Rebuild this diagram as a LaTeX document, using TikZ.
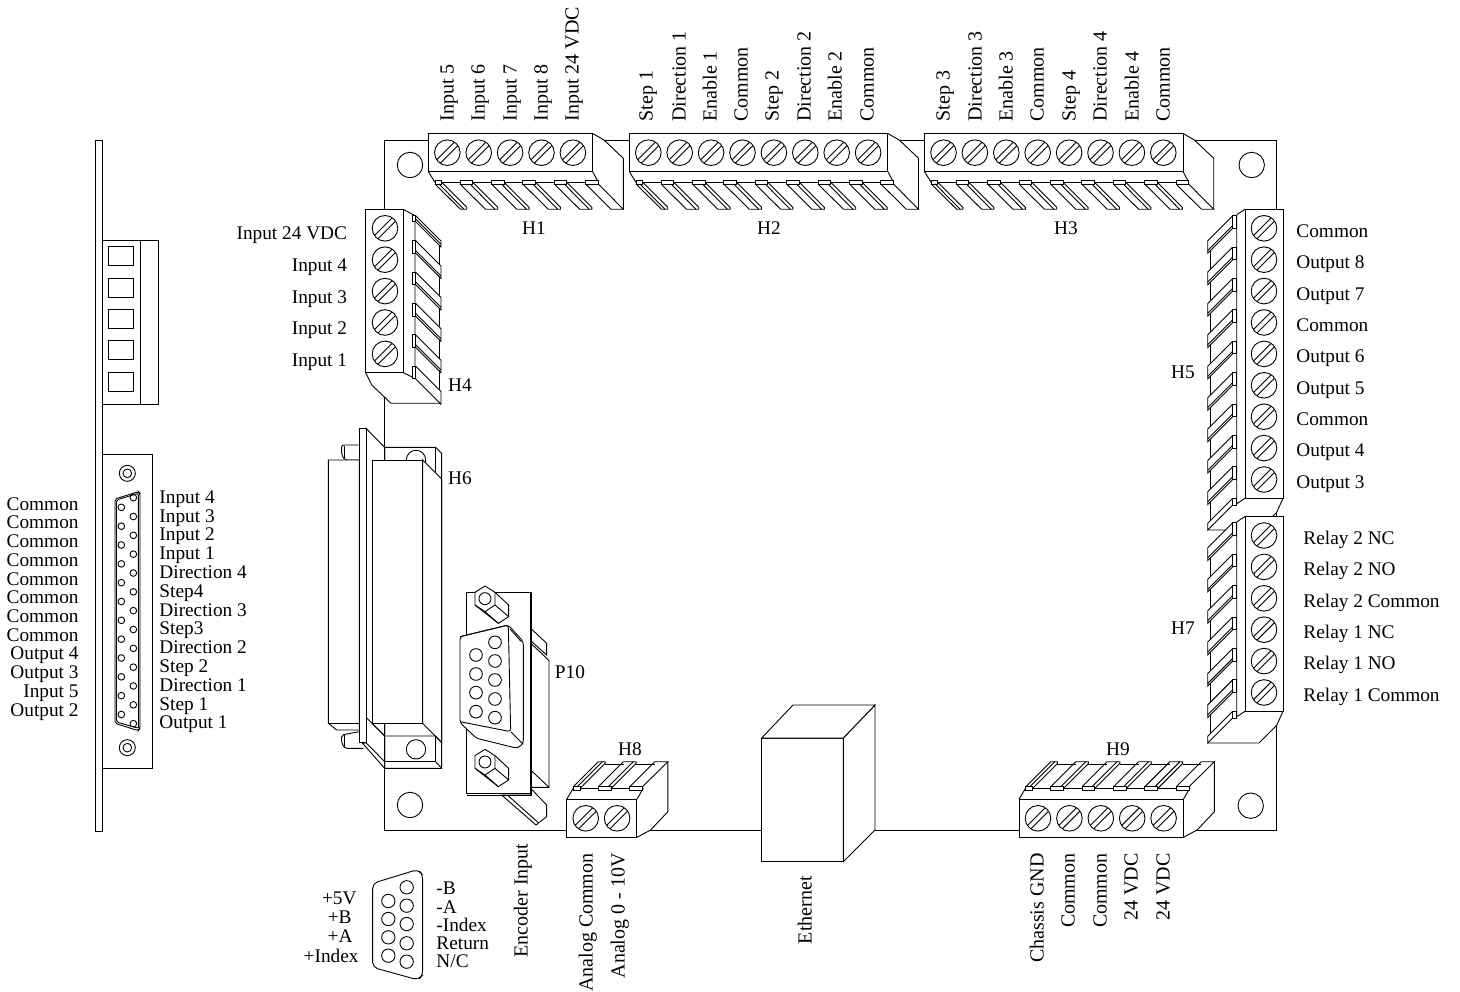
\documentclass[tikz,border=0pt]{standalone}
\usepackage{fontspec}
\setmainfont{Liberation Serif}
\newcommand{\screw}[2]{%
  \draw[shift={(#1,#2)}] (0,0) circle[radius=12.8];
  \draw[shift={(#1,#2)}] (10.59,-7.19)--(-7.19,10.59) (7.19,-10.59)--(-10.59,7.19);}
% --- connector on the top edge: left x, screws
\newcommand{\topconn}[2]{%
  \pgfmathsetmacro\cR{#1+#2*31.4+7.4}
  \fill[white] (#1,133.5)--(\cR,133.5)--(\cR+11.3,140)--(\cR+30.6,158.3)--(\cR+30.6,209.3)--(#1+32,209.3)--(#1+6.7,184)--(#1,171.7)--cycle;
  \draw (#1,133.5) rectangle (\cR,171.7);
  \draw (\cR,133.5)--(\cR+11.3,140)--(\cR+30.6,158.3)--(\cR+30.6,209.3);
  \draw (#1,171.7)--(#1+6.7,182.3) (\cR,171.7)--(\cR+5.7,182.3);
  \draw (#1+6.7,182.3)--(\cR+5.7,182.3);
  \foreach \i in {0,...,#2}{
    \pgfmathsetmacro\fx{\i==0 ? #1+6.7 : #1+31.7+31.4*(\i-1)}
    \pgfmathsetmacro\tw{\i==0 ? 6.7 : 12.7}
    \draw[fill=white] (\fx,180.7) rectangle (\fx+\tw,184);
    \draw (\fx,184)--(\fx+25.5,209.3);
    \ifnum\i<#2
      \draw (\fx+\tw,182.3)--(\fx+\tw+25,207.3)--(\fx+\tw+25,209.3)--(\fx+25.5,209.3);
      \draw (\fx+\tw-2.7,184)--(\fx+\tw+22.3,209.3);
    \else
      \draw (\fx+\tw,184)--(\cR+30.6,209.3)--(\fx+25.5,209.3);
    \fi
  }
  \foreach \i in {1,...,#2}{\pgfmathsetmacro\sx{#1+19+31.4*(\i-1)}\screw{\sx}{152.7}}
}
% --- connector on the bottom edge: left x, screws
\newcommand{\botconn}[2]{%
  \pgfmathsetmacro\cR{#1+#2*31.4+7.4}
  \fill[white] (#1,799.3)--(#1,837.3)--(\cR,837.3)--(\cR+13.7,830)--(\cR+31,811.7)--(\cR+31,761.7)--(#1+31.7,761.7)--(#1+6.7,786.7)--cycle;
  \draw (#1,799.3) rectangle (\cR,837.3);
  \draw (\cR,837.3)--(\cR+13.7,830)--(\cR+31,811.7)--(\cR+31,761.7);
  \draw (#1,799.3)--(#1+6.7,788) (\cR,799.3)--(\cR+6.5,788);
  \draw (#1+6.7,788)--(\cR+6.5,788);
  \foreach \i in {0,...,#2}{
    \pgfmathsetmacro\fx{\i==0 ? #1+6.7 : #1+31.7+31.4*(\i-1)}
    \pgfmathsetmacro\tw{\i==0 ? 6.7 : 12.7}
    \draw[fill=white] (\fx,786.7) rectangle (\fx+\tw,790);
    \draw (\fx,786.7)--(\fx+25,761.7);
    \ifnum\i<#2
      \draw (\fx+\tw,788.5)--(\fx+\tw+25,763.5)--(\fx+\tw+25,761.7)--(\fx+25,761.7);
      \draw (\fx+\tw-2.7,786.7)--(\fx+\tw+22.3,761.7);
      \draw (\fx+\tw+25,764)--(\fx+\tw+25+18.7,764);
    \else
      \draw (\fx+\tw,786.7)--(\cR+31,761.7)--(\fx+25,761.7);
    \fi
  }
  \foreach \i in {1,...,#2}{\pgfmathsetmacro\sx{#1+19+31.4*(\i-1)}\screw{\sx}{818.3}}
}
% --- connector on the right edge: top y, screws
\newcommand{\rightconn}[2]{%
  \pgfmathsetmacro\cB{#1+#2*31.4+6.4}
  \pgfmathsetmacro\ly{#1+6.4+31.4*#2}
  \fill[white] (1245,#1)--(1283,#1)--(1283,\cB)--(1276.7,\cB+14)--(1259,\cB+31.7)--(1207.5,\ly+31.7)--(1207.5,#1+31.4)--(1232.7,#1+6.4)--(1236.7,#1+5.4)--cycle;
  \draw (1245,#1) rectangle (1283,\cB);
  \draw (1283,\cB)--(1276.7,\cB+14)--(1259,\cB+31.7)--(1207.5,\cB+31.7);
  \draw (1245,#1)--(1236.7,#1+5.4)--(1236.7,\cB+5.4)--(1245,\cB);
  \foreach \i in {0,...,#2}{
    \pgfmathsetmacro\fy{#1+6.4+31.4*\i}
    \pgfmathsetmacro\th{\i==#2 ? 6.7 : 12.6}
    \draw[fill=white] (1232.7,\fy) rectangle (1236.7,\fy+\th);
    \draw (1232.7,\fy)--(1207.7,\fy+25)--(1207.7,\fy+\th+25)--(1232.7,\fy+\th);
    \ifnum\i<#2
      \draw (1232.7,\fy+\th-2.7)--(1207.7,\fy+\th+22.3);
      \draw (1210.7,\fy+\th+22)--(1210.7,\fy+31.4+22);
    \fi
  }
  \foreach \i in {1,...,#2}{\pgfmathsetmacro\sy{#1+19+31.4*(\i-1)}\screw{1264}{\sy}}
}
% --- H4 on the left edge: top y, screws
\newcommand{\leftconn}[2]{%
  \pgfmathsetmacro\cB{#1+#2*31.4+6.4}
  \fill[white] (365.7,#1)--(403.3,#1)--(415,#1+6.4)--(441,#1+31.4)--(441,\cB+31)--(391,\cB+31)--(371.7,\cB+12.3)--(365.7,\cB)--cycle;
  \draw (365.7,#1) rectangle (403.3,\cB);
  \draw (365.7,\cB)--(371.7,\cB+12.3)--(391,\cB+30.6)--(441,\cB+30.6);
  \draw (403.3,#1)--(415,#1+6.4)--(415,\cB+5.7)--(403.3,\cB);
  \foreach \i in {0,...,#2}{
    \pgfmathsetmacro\fy{\i==0 ? #1+6.4 : #1+31.4*\i}
    \pgfmathsetmacro\th{\i==0 ? 6 : 12.6}
    \draw[fill=white] (412.3,\fy) rectangle (415.7,\fy+\th);
    \draw (415.7,\fy)--(441,\fy+25.3)--(441,\fy+\th+25.3)--(415.7,\fy+\th);
    \ifnum\i<#2
      \draw (415.7,\fy+\th-2.7)--(441,\fy+\th+22.6);
      \draw (439,\fy+\th+23)--(439,#1+31.4*\i+31.4+23);
    \fi
  }
  \foreach \i in {1,...,#2}{\pgfmathsetmacro\sy{#1+19+31.4*(\i-1)}\screw{385}{\sy}}
}
\begin{document}
\begin{tikzpicture}[x=1pt,y=-1pt,line width=0.9pt,line join=miter,
  lab/.style={inner sep=0pt,text height=12.6pt,text depth=0pt,font=\fontsize{19.3}{21}\selectfont},
  vlab/.style={inner sep=0pt,text height=13pt,text depth=0pt,rotate=90,font=\fontsize{20}{22}\selectfont}]
\useasboundingbox (0,0) rectangle (1460,992);
% board
\draw (384.7,140) rectangle (1276.7,830.7);
\draw (410,165) circle[radius=12.7] (1251.7,165) circle[radius=12.7] (410,805) circle[radius=12.7] (1250.7,805.7) circle[radius=12.7];
% terminal connectors
\topconn{428.3}{5}
\topconn{629.3}{8}
\topconn{924.5}{8}
\leftconn{209.3}{5}
\rightconn{209.3}{9}
\rightconn{516.5}{6}
\botconn{566.7}{2}
\botconn{1019}{5}
% Ethernet
\draw[fill=white] (761.7,738) rectangle (843.3,861.7);
\draw[fill=white] (843.3,738)--(875,705)--(875,830)--(843.3,861.7)--cycle;
\draw[fill=white] (761.7,738)--(793,705)--(875,705)--(843.3,738)--cycle;
% H6
\begin{scope}[shift={(310,410)},x=0.33333pt,y=-0.33333pt]
  \draw[fill=white] (224,112)--(377,112)--(395,130)--(395,1075)--(224,1075)--cycle;
  \draw (377,112)--(377,189);
  \draw (318,150) circle[radius=29];
  \draw[fill=white,rounded corners=2pt] (148,105)--(95,105)--(95,135)--(105,150)--(148,150);
  \draw (103,107)--(103,148);
  \draw[fill=white,rounded corners=2pt] (148,965)--(95,975)--(95,1000)--(105,1015)--(160,1015);
  \draw (103,975)--(103,1013);
  \draw[fill=white] (55,150)--(148,150)--(148,960)--(80,960)--(55,940)--cycle;
  \draw (55,940)--(148,940);
  \draw[fill=white] (168,55)--(224,112)--(224,1075)--(158,1000)--(168,998)--cycle;
  \draw[fill=white] (148,55) rectangle (168,998);
  \draw[fill=white] (338,150)--(395,207)--(395,998)--(338,940)--cycle;
  \draw[fill=white] (186,150) rectangle (338,940);
  \draw (168,922)--(224,978)--(377,978)--(395,998);
  \draw (186,940)--(224,978);
  \draw (168,998)--(224,1055);
  \draw (224,978)--(224,1075);
  \draw (224,1055)--(377,1055)--(377,978);
  \draw (377,1055)--(395,1075);
  \draw (318,1018) circle[radius=29];
\end{scope}
% P10
\begin{scope}[shift={(310,410)},x=0.33333pt,y=-0.33333pt]
  \draw[fill=white] (662,655)--(710,700)--(710,735)--(662,692)--cycle;
  \draw[fill=white] (662,700)--(700,735)--(717,752)--(717,1132)--(662,1132)--cycle;
  \draw (662,1080)--(717,1132);
  \draw[fill=white] (575,1155)--(678,1245)--(710,1220)--(710,1185)--(662,1135)--(662,1155)--cycle;
  \draw (592,1155)--(685,1238);
  \draw[fill=white] (470,547) rectangle (660,1150);
  \draw (664,547)--(664,1155)--(470,1155);
  \foreach \dy in {0,490}{
    \begin{scope}[yshift=-\dy*0.33333pt]
      \draw[fill=white] (525,528)--(555,547)--(596,585)--(596,620)--(565,640)--(495,585)--(495,547)--cycle;
      \draw (495,585)--(525,605)--(555,585)--(555,547);
      \draw (555,585)--(596,620) (525,605)--(565,640);
      \draw (525,566) circle[radius=18];
    \end{scope}
  }
  \draw[fill=white,rounded corners=3pt] (595,645)--(640,695)--(640,1000)--(622,1015)--(500,985)--(450,938)--(450,680)--cycle;
  \draw (634,695)--(600,657);
  \draw[rounded corners=3pt] (450,680)--(595,645)--(602,965)--(450,935);
  \draw (602,965)--(640,1003);
  \foreach \y in {735,792,848,905} \draw (498,\y) circle[radius=19];
  \foreach \y in {697,753,810,867,923} \draw (555,\y) circle[radius=19];
\end{scope}
% left panel
\draw (95.7,140) rectangle (102.3,831);
\draw[fill=white] (102.5,240) rectangle (158.7,404);
\draw (140,240)--(140,404);
\foreach \y in {246.7,278.1,309.5,340.9,372.3} \draw (108.3,\y) rectangle (133.7,\y+19);
\draw[fill=white] (102.3,454) rectangle (152.7,768.3);
\begin{scope}[shift={(90,450)},x=0.33333pt,y=-0.33333pt]
  \foreach \y in {70,893} {\draw (112,\y) circle[radius=24] (112,\y) circle[radius=13];}
  \draw[rounded corners=2pt] (75,147)--(145,125)--(150,130)--(150,835)--(145,842)--(75,820)--cycle;
  \draw[rounded corners=2pt] (79,150)--(145,130)--(146,835)--(79,816)--cycle;
  \foreach \i in {0,...,12} \draw (130,143+56.5*\i) circle[radius=10];
  \foreach \i in {0,...,11} \draw (94,172+56.5*\i) circle[radius=10];
\end{scope}
% bottom D9 pinout
\begin{scope}[shift={(300,860)},x=0.33333pt,y=-0.33333pt]
  \draw[rounded corners=5pt] (218,70)--(355,28)--(368,45)--(368,345)--(355,360)--(218,322)--cycle;
  \foreach \y in {123,177,232,287} \draw (265,\y) circle[radius=20];
  \foreach \y in {82,137,192,250,305} \draw (320,\y) circle[radius=20];
\end{scope}
% labels on top
\foreach \x/\t [count=\i] in {447/Input 5,478/Input 6,510/Input 7,541/Input 8,572/Input 24 VDC}
  \node[vlab,anchor=west] (ta\i) at (\x,122) {\t};
\foreach \x/\t [count=\i] in {646/Step 1,679/Direction 1,710/Enable 1,741/Common,772/Step 2,804/Direction 2,835/Enable 2,867/Common}
  \node[vlab,anchor=west] (tb\i) at (\x,122) {\t};
\foreach \x/\t [count=\i] in {943/Step 3,975/Direction 3,1006/Enable 3,1037/Common,1069/Step 4,1100/Direction 4,1132/Enable 4,1163/Common}
  \node[vlab,anchor=west] (tc\i) at (\x,122) {\t};
% connector names
\foreach \x/\y/\t in {534/228/H1,769/228/H2,1066/228/H3,460/385/H4,1183/372/H5,460/478/H6,1183/628/H7,630/749/H8,1118/749/H9,570/672/P10}
  \node[lab] (n\t) at (\x,\y) {\t};
% H4
\foreach \y/\t [count=\i] in {233/Input 24 VDC,265/Input 4,297/Input 3,328/Input 2,360/Input 1}
  \node[lab,anchor=east] (d\i) at (347.5,\y) {\t};
% H5
\foreach \y/\t [count=\i] in {231/Common,262/Output 8,294/Output 7,325/Common,356/Output 6,388/Output 5,419/Common,450/Output 4,482/Output 3}
  \node[lab,anchor=west] (e\i) at (1296,\y) {\t};
% H7
\foreach \y/\t [count=\i] in {538/Relay 2 NC,569/Relay 2 NO,601/Relay 2 Common,632/Relay 1 NC,663/Relay 1 NO,695/Relay 1 Common}
  \node[lab,anchor=west] (f\i) at (1303,\y) {\t};
% D25 left
\foreach \y/\t [count=\i] in {504/Common,522/Common,541/Common,560/Common,579/Common,597/Common,616/Common,635/Common,653/Output 4,672/Output 3,691/Input 5,710/Output 2}
  \node[lab,anchor=east] (g\i) at (79,\y) {\t};
% D25 right
\foreach \y/\t [count=\i] in {497/Input 4,516/Input 3,534/Input 2,553/Input 1,572/Direction 4,591/Step4,610/Direction 3,628/Step3,647/Direction 2,666/Step 2,685/Direction 1,704/Step 1,722/Output 1}
  \node[lab,anchor=west] (k\i) at (159,\y) {\t};
% D9 pinout
\node[lab,anchor=east] (m1) at (357,898) {+5V};
\node[lab,anchor=east] (m2) at (352,917) {+B};
\node[lab,anchor=east] (m3) at (353,936) {+A};
\node[lab,anchor=east] (m4) at (359,956) {+Index};
\node[lab,anchor=west] (p1) at (436,888) {-B};
\node[lab,anchor=west] (p2) at (436,907) {-A};
\node[lab,anchor=west] (p3) at (436,925) {-Index};
\node[lab,anchor=west] (p4) at (436,943) {Return};
\node[lab,anchor=west] (p5) at (436,961) {N/C};
% bottom rotated
\foreach \x/\y/\t [count=\i] in {521/843/Encoder Input,586/853/Analog Common,618/853/Analog 0 - 10V,805/876/Ethernet,1037/853/Chassis GND,1068/853/Common,1100/853/Common,1131/853/24 VDC,1163/853/24 VDC}
  \node[vlab,anchor=east] (q\i) at (\x,\y) {\t};
\end{tikzpicture}
\end{document}
